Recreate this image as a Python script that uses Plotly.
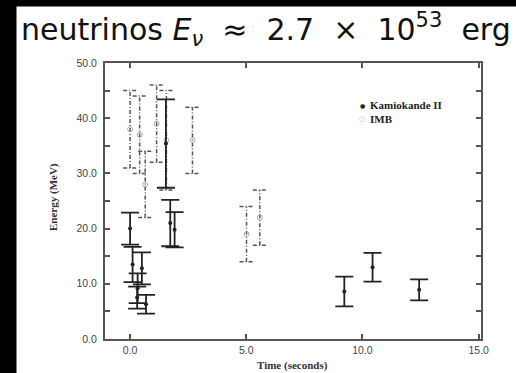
import plotly.graph_objects as go

# ---- data (SN1987A neutrino events) ----
kam_t = [0.0, 0.107, 0.303, 0.324, 0.507, 0.686, 1.541, 1.728, 1.915, 9.219, 10.433, 12.439]
kam_e = [20.0, 13.5, 7.5, 9.2, 12.8, 6.3, 35.4, 21.0, 19.8, 8.6, 13.0, 8.9]
kam_err = [2.9, 3.2, 2.0, 2.7, 2.9, 1.7, 8.0, 4.2, 3.2, 2.7, 2.6, 1.9]

imb_t = [0.0, 0.412, 0.650, 1.141, 1.562, 2.684, 5.010, 5.582]
imb_e = [38.0, 37.0, 28.0, 39.0, 36.0, 36.0, 19.0, 22.0]
imb_err = [7.0, 7.0, 6.0, 7.0, 9.0, 6.0, 5.0, 5.0]

x_ticks = [0, 5, 10, 15]
x_ticklabels = ["0.0", "5.0", "10.0", "15.0"]
y_ticks = [0, 10, 20, 30, 40, 50]
y_ticklabels = ["0.0", "10.0", "20.0", "30.0", "40.0", "50.0"]

W, H = 516, 373
L, R, T, B = 105, 35, 63, 34
pw, ph = W - L - R, H - T - B
XR = [-1.08, 15.1]
px_per_x = pw / (XR[1] - XR[0])

def px2paper_x(p):
    return (p - L) / pw

def px2paper_y(p):
    return (H - B - p) / ph

fig = go.Figure()

# IMB dashed error bars built from data
cap = 7 / px_per_x
xs, ys = [], []
for t, e, s in zip(imb_t, imb_e, imb_err):
    xs += [t, t, None, t - cap, t + cap, None, t - cap, t + cap, None]
    ys += [e - s, e + s, None, e + s, e + s, None, e - s, e - s, None]
fig.add_trace(go.Scatter(x=xs, y=ys, mode="lines", showlegend=False,
                         line=dict(color="#555", width=1.5, dash="4px,2px,1px,2px"),
                         hoverinfo="skip"))
fig.add_trace(go.Scatter(x=imb_t, y=imb_e, mode="markers", name="IMB", showlegend=False,
                         marker=dict(symbol="circle-open", size=5, color="#aaa",
                                     line=dict(width=1, color="#aaa"))))

fig.add_trace(go.Scatter(x=kam_t, y=kam_e, mode="markers", name="Kamiokande II", showlegend=False,
                         marker=dict(symbol="circle", size=4, color="#222"),
                         error_y=dict(type="data", array=kam_err, visible=True,
                                      color="#222", thickness=1.8, width=9)))

axis_common = dict(showline=True, linecolor="#555", linewidth=2, mirror="ticks",
                   ticks="inside", ticklen=5, tickwidth=1.5, tickcolor="#555",
                   showgrid=False, zeroline=False,
                   tickfont=dict(family="Liberation Sans", size=10.5, color="#444"))

fig.update_xaxes(range=XR, tickvals=x_ticks, ticktext=x_ticklabels, **axis_common)
fig.update_yaxes(range=[0, 50], tickvals=y_ticks, ticktext=y_ticklabels,
                 ticklabelstandoff=4,
                 minor=dict(dtick=5, ticks="inside", ticklen=5, tickwidth=1.5, tickcolor="#555"),
                 **axis_common)

# black frame strips (left and top edge of the scanned image)
fig.add_shape(type="rect", xref="paper", yref="paper",
              x0=px2paper_x(0), x1=px2paper_x(16), y0=px2paper_y(H), y1=px2paper_y(0),
              fillcolor="#000000", line=dict(color="#000000", width=1), opacity=1)
fig.add_shape(type="rect", xref="paper", yref="paper",
              x0=px2paper_x(0), x1=px2paper_x(W), y0=px2paper_y(6), y1=px2paper_y(0),
              fillcolor="#000000", line=dict(color="#000000", width=1), opacity=1)

legend_font = dict(family="Liberation Serif", size=11, color="#222")
annotations = [
    dict(text="neutrinos <i>E</i><sub><i>ν</i></sub>  ≈  2.7  ×  10<sup>53</sup>  erg",
         xref="paper", yref="paper", x=px2paper_x(19), y=px2paper_y(30),
         xanchor="left", yanchor="middle", showarrow=False,
         font=dict(family="DejaVu Sans", size=30, color="#111")),
    dict(text="<b>Time (seconds)</b>", xref="paper", yref="paper",
         x=px2paper_x(292), y=px2paper_y(365), xanchor="center", yanchor="middle",
         showarrow=False, font=dict(family="Liberation Serif", size=11, color="#333")),
    dict(text="<b>Energy (MeV)</b>", xref="paper", yref="paper", textangle=-90,
         x=px2paper_x(53), y=px2paper_y(197), xanchor="center", yanchor="middle",
         showarrow=False, font=dict(family="Liberation Serif", size=11, color="#333")),
    # legend
    dict(text="●", xref="paper", yref="paper", x=px2paper_x(362), y=px2paper_y(105),
         xanchor="center", yanchor="middle", showarrow=False,
         font=dict(family="DejaVu Sans", size=6, color="#222")),
    dict(text="<b>Kamiokande II</b>", xref="paper", yref="paper", x=px2paper_x(368), y=px2paper_y(105),
         xanchor="left", yanchor="middle", showarrow=False, font=legend_font),
    dict(text="○", xref="paper", yref="paper", x=px2paper_x(362), y=px2paper_y(119),
         xanchor="center", yanchor="middle", showarrow=False,
         font=dict(family="DejaVu Sans", size=7, color="#aaa")),
    dict(text="<b>IMB</b>", xref="paper", yref="paper", x=px2paper_x(368), y=px2paper_y(119),
         xanchor="left", yanchor="middle", showarrow=False, font=legend_font),
]

fig.update_layout(
    width=W, height=H, margin=dict(l=L, r=R, t=T, b=B, autoexpand=False),
    paper_bgcolor="white", plot_bgcolor="white",
    annotations=annotations,
    showlegend=False,
)

fig.write_html("out.html")
